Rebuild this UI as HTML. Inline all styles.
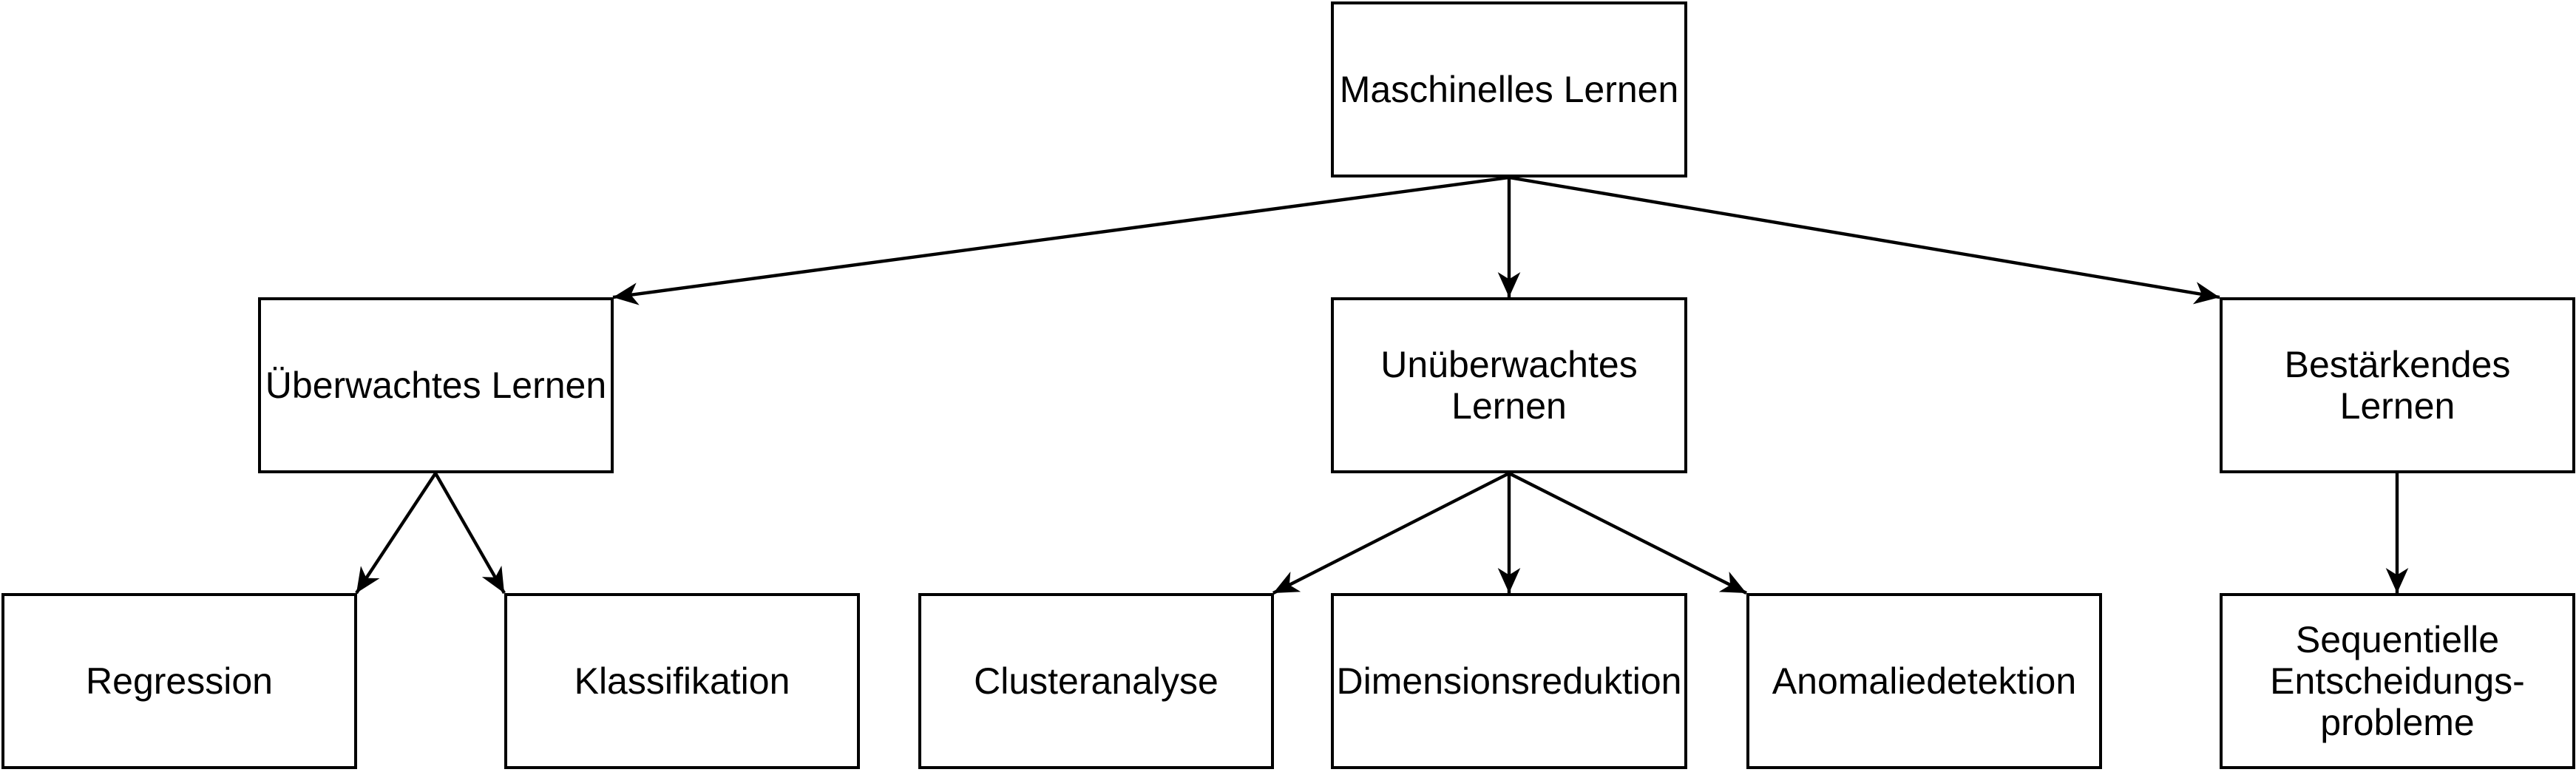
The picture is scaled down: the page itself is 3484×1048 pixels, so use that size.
<!DOCTYPE html>
<html><head><meta charset="utf-8"><style>
html,body{margin:0;padding:0;background:#fff;}
body{width:3484px;height:1048px;position:relative;overflow:hidden;font-family:"Liberation Sans",sans-serif;}
.b{position:absolute;box-sizing:border-box;border:4.4px solid #000;background:#fff;display:flex;align-items:center;justify-content:center;text-align:center;font-size:50px;line-height:1.12;color:#000;}
svg{position:absolute;left:0;top:0;}
</style></head><body>
<svg width="3484" height="1048">
<defs><marker id="a" markerUnits="userSpaceOnUse" markerWidth="34" markerHeight="34" viewBox="0 0 10 10" refX="10" refY="5" orient="auto"><path d="M0,0.5 L10,5 L0,9.5 L2.8,5 z" fill="#000"/></marker></defs>
<g stroke="#000" stroke-width="4.4" fill="none" marker-end="url(#a)">
<line x1="2041" y1="240" x2="829" y2="402"/>
<line x1="2041" y1="240" x2="2041" y2="402"/>
<line x1="2041" y1="240" x2="3002" y2="402"/>
<line x1="589" y1="640" x2="482" y2="802"/>
<line x1="589" y1="640" x2="682" y2="802"/>
<line x1="2041" y1="640" x2="1722" y2="802"/>
<line x1="2041" y1="640" x2="2041" y2="802"/>
<line x1="2041" y1="640" x2="2362" y2="802"/>
<line x1="3242" y1="640" x2="3242" y2="802"/>
</g></svg>
<div class="b" style="left:1800px;top:2px;width:482px;height:238px">Maschinelles Lernen</div>
<div class="b" style="left:349px;top:402px;width:481px;height:238px">Überwachtes Lernen</div>
<div class="b" style="left:1800px;top:402px;width:482px;height:238px">Unüberwachtes<br>Lernen</div>
<div class="b" style="left:3002px;top:402px;width:481px;height:238px">Bestärkendes<br>Lernen</div>
<div class="b" style="left:2px;top:802px;width:481px;height:238px">Regression</div>
<div class="b" style="left:682px;top:802px;width:481px;height:238px">Klassifikation</div>
<div class="b" style="left:1242px;top:802px;width:481px;height:238px">Clusteranalyse</div>
<div class="b" style="left:1800px;top:802px;width:482px;height:238px">Dimensionsreduktion</div>
<div class="b" style="left:2362px;top:802px;width:481px;height:238px">Anomaliedetektion</div>
<div class="b" style="left:3002px;top:802px;width:481px;height:238px">Sequentielle<br>Entscheidungs-<br>probleme</div>
</body></html>
